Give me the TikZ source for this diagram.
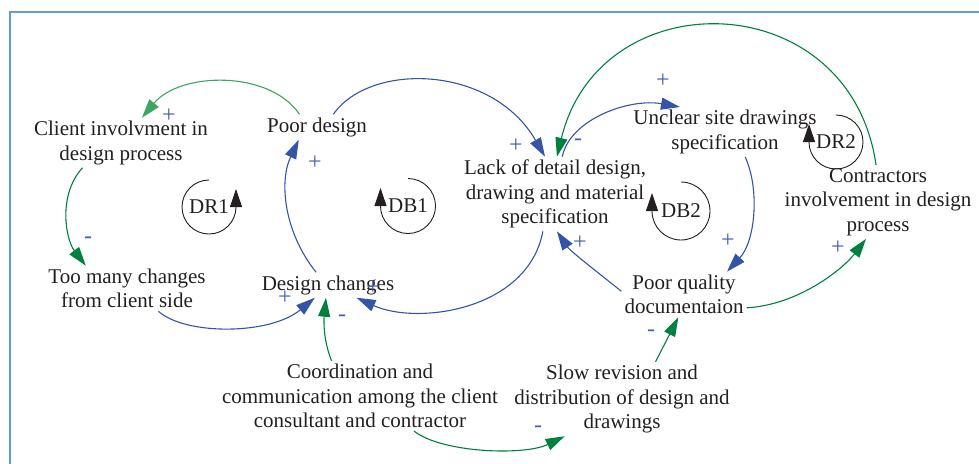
\documentclass[tikz,border=0pt]{standalone}
\usepackage{fontspec}
\setmainfont{Liberation Serif}
\usetikzlibrary{arrows.meta}

\definecolor{linkblue}{RGB}{52,84,168}
\definecolor{linkgreen}{RGB}{0,128,62}
\definecolor{palegreen}{RGB}{60,166,96}
\definecolor{frameblue}{RGB}{96,158,216}
\definecolor{signblue}{RGB}{70,95,180}
\definecolor{inkgrey}{RGB}{35,31,32}

\begin{document}
\begin{tikzpicture}[x=1pt, y=1pt,
        var/.style={align=center, inner sep=3pt, text=inkgrey, font=\fontsize{21}{24.5}\selectfont},
        sign/.style={inner sep=0pt, text=signblue, font=\fontsize{24}{24}\selectfont},
        link/.style={line width=1.1pt, -{Triangle[length=19pt,width=12pt]}},
        blue link/.style={link, draw=linkblue},
        green link/.style={link, draw=linkgreen},
        pale link/.style={link, draw=palegreen},
        loopmark/.style={line width=0.9pt, draw=inkgrey, -{Triangle[length=18pt,width=12pt]}}]
        % \draw[help lines, step=50] (0,0) grid (979,-463);
        \useasboundingbox (0,0) rectangle (979,-463);
        \draw[frameblue, line width=2pt] (9.5,-12) rectangle (995,-480);

        \node[var] (client)  at (121,-142.75) {Client involvment in\\design process};
        \node[var] (poor)    at (317,-127)    {Poor design};
        \node[var] (lack)    at (555,-194)    {Lack of detail design,\\drawing and material\\specification};
        \node[var] (unclear) at (725,-132)    {Unclear site drawings\\specification};
        \node[var] (contr)   at (878,-202)    {Contractors\\involvement in design\\process};
        \node[var] (pq)      at (684,-294.5)  {Poor quality\\documentaion};
        \node[var] (dc)      at (328,-285)    {Design changes};
        \node[var] (toomany) at (127,-288.5)  {Too many changes\\from client side};
        \node[var] (coord)   at (360,-396)    {Coordination and\\communication among the client\\consultant and contractor};
        \node[var] (slow)    at (622,-399)    {Slow revision and\\distribution of design and\\drawings};

        % loop markers
        \node[var] (dr1) at (209,-207) {DR1};
        \node[var] (db1) at (408,-206) {DB1};
        \node[var] (db2) at (681,-211) {DB2};
        \node[var] (dr2) at (836,-142) {DR2};
        \draw[loopmark] ([yshift=27pt]dr1.center) arc[start angle=90, end angle=360, radius=27] -- ++(0,18);
        \draw[loopmark] ([yshift=27.5pt]db1.center) arc[start angle=90, end angle=-180, radius=27.5] -- ++(0,18);
        \draw[loopmark] ([yshift=29pt]db2.center) arc[start angle=90, end angle=-180, radius=29] -- ++(0,18);
        \draw[loopmark] ([yshift=27pt]dr2.center) arc[start angle=90, end angle=-180, radius=27] -- ++(0,18);

        \draw[blue link] (poor.38) .. controls +(37,52.5) and +(-53,92) .. (lack.105);
        \draw[blue link] (dc.133) .. controls +(-32,40) and +(-20,-42) .. (poor.215);
        \draw[blue link] (lack.252) .. controls +(-15,-79.5) and +(60,-27.5) .. (dc.336);
        \draw[blue link] (toomany.324) .. controls +(27,-24) and +(-45,-37.5) .. (dc.224);
        \draw[blue link] (lack.79) .. controls +(8,38) and +(-50,9) .. (unclear.151);
        \draw[blue link] (unclear.309) .. controls +(15,-33.5) and +(28,30) .. (pq.28);
        \draw[blue link] (pq.177) .. controls +(-20,16) and +(13,-19.5) .. (lack.273);

        \draw[pale link] (poor.144) .. controls +(-30,44.5) and +(38,46) .. (client.50);
        \draw[green link] (client.213) .. controls +(-25,-27.5) and +(-20,26) .. (toomany.151);
        \draw[green link] (coord.129) .. controls +(-9,22.5) and +(-2,-20.5) .. (dc.261);
        \draw[green link] (coord.327) .. controls +(28,-22) and +(-40,-19.5) .. (slow.213);
        \draw[green link] (slow.48) -- (pq.256);
        \draw[green link] (pq.348) .. controls +(52,3) and +(-23,-30) .. (contr.252);
        \draw[green link] (contr.93) .. controls +(-26,181) and +(43,178) .. (lack.87);

        % polarities
        \node[sign] (s1)  at (169,-116) {+};
        \node[sign] (s2)  at (315,-163) {+};
        \node[sign] (s3)  at (516,-146) {+};
        \node[sign] (s4)  at (578,-142) {-};
        \node[sign] (s5)  at (663,-81)  {+};
        \node[sign] (s6)  at (728,-241) {+};
        \node[sign] (s7)  at (580,-243) {+};
        \node[sign] (s8)  at (838,-248) {+};
        \node[sign] (s9)  at (88,-240)  {-};
        \node[sign] (s10) at (285,-298) {+};
        \node[sign] (s11) at (373,-288) {+};
        \node[sign] (s12) at (342,-318) {-};
        \node[sign] (s13) at (538,-429) {-};
        \node[sign] (s14) at (651,-333) {-};
\end{tikzpicture}
\end{document}
